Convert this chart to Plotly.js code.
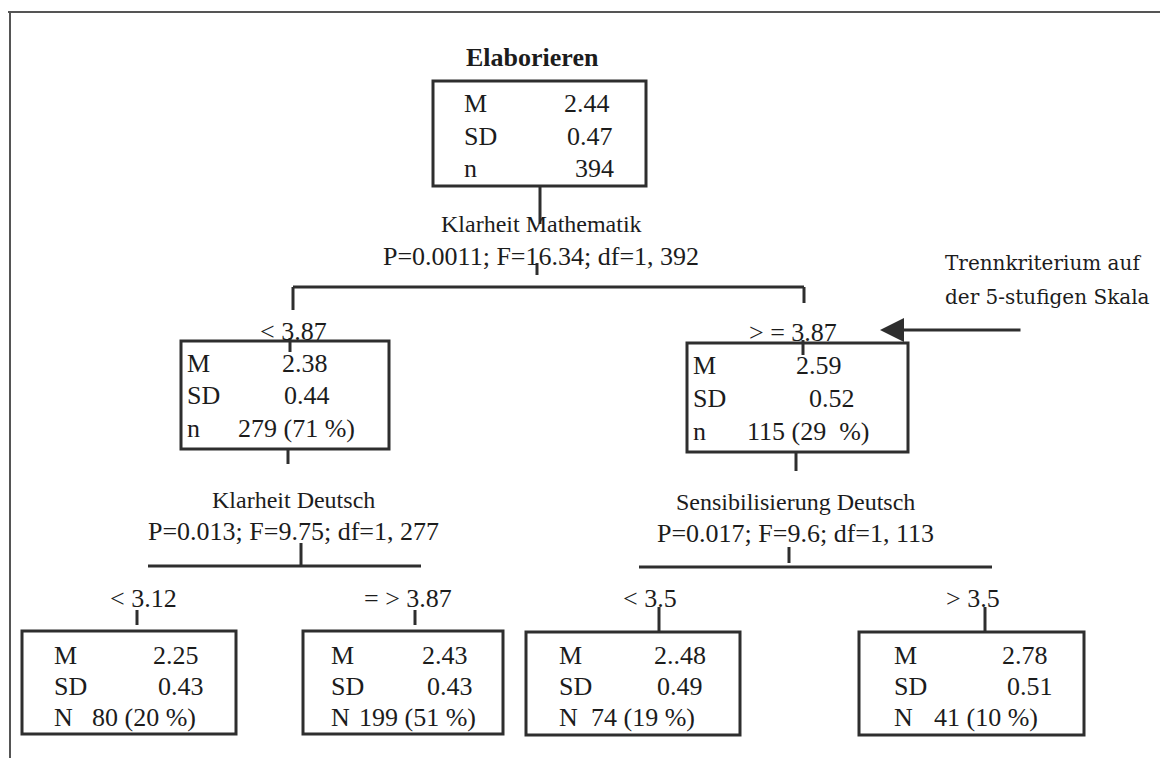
<!DOCTYPE html>
<html>
<head>
<meta charset="utf-8">
<script src="https://cdn.plot.ly/plotly-3.0.1.min.js"></script>
<style>html,body{margin:0;padding:0;background:#fff;}#chart{width:1160px;height:758px;}</style>
</head>
<body>
<div id="chart"></div>
<script>
// ---------- data ----------
const rootName = "Elaborieren";
const splitVariables = ["Klarheit Mathematik", "Klarheit Deutsch", "Sensibilisierung Deutsch"];
const splitStatistics = ["P=0.0011; F=16.34; df=1, 392", "P=0.013; F=9.75; df=1, 277", "P=0.017; F=9.6; df=1, 113"];
const branchLabels = ["< 3.87", "> = 3.87", "< 3.12", "= > 3.87", "< 3.5", "> 3.5"];
const rowLabels = ["M", "SD"];
const countLabels = ["n", "n", "n", "N", "N", "N", "N"];
const meanValues = ["2.44", "2.38", "2.59", "2.25", "2.43", "2..48", "2.78"];
const sdValues = ["0.47", "0.44", "0.52", "0.43", "0.43", "0.49", "0.51"];
const countValues = ["394", "279 (71 %)", "115 (29\u00A0 %)", "80 (20 %)", "199 (51 %)", "74 (19 %)", "41 (10 %)"];
const noteLines = ["Trennkriterium auf", "der 5-stufigen Skala"];

// ---------- layout geometry (pixel space of the page) ----------
const W = 1160, H = 758;
const boxGeo = [
  {x0: 433, x1: 646, y0: 81,  y1: 186, rows: [103, 136, 168], labX: 463, valX: [587, 590, 594]},
  {x0: 181, x1: 389, y0: 341, y1: 449, rows: [363, 395, 428], labX: 186, valX: [305, 307, 296]},
  {x0: 687, x1: 908, y0: 343, y1: 452, rows: [365, 398, 431], labX: 692, valX: [819, 832, 808]},
  {x0: 22,  x1: 236, y0: 631, y1: 734, rows: [655, 686, 717], labX: 53,  valX: [176, 181, 144]},
  {x0: 303, x1: 503, y0: 631, y1: 734, rows: [655, 686, 717], labX: 330, valX: [445, 450, 417]},
  {x0: 526, x1: 740, y0: 632, y1: 735, rows: [655, 686, 717], labX: 558, valX: [680, 680, 643]},
  {x0: 859, x1: 1084, y0: 632, y1: 735, rows: [655, 686, 717], labX: 893, valX: [1025, 1030, 986]}
];
const splitGeo = [{cx: 541, y1: 224, y2: 256}, {cx: 293, y1: 500, y2: 531}, {cx: 795, y1: 502, y2: 533}];
const branchGeo = [{x: 293, y: 331}, {x: 793, y: 332}, {x: 143, y: 598}, {x: 408, y: 598}, {x: 650, y: 598}, {x: 973, y: 598}];
const connectorGeo = [
  [540, 186, 540, 224], [537, 263, 537, 275],
  [293, 287, 804, 287], [293, 287, 293, 310], [804, 287, 804, 303],
  [290, 338, 290, 352], [803, 340, 803, 355],
  [288, 449, 288, 464], [796, 452, 796, 471],
  [301, 543, 301, 566], [148, 566, 421, 566],
  [789, 547, 789, 563], [639, 567, 992, 567],
  [137, 610, 137, 625], [415, 610, 415, 625], [659, 607, 659, 632], [985, 607, 985, 632]
];

const LINE = '#2e2e2e', INK = '#1c1c1c';
const SERIF = 'Liberation Serif, Times New Roman, serif';
const bodyFont = {family: SERIF, size: 26, color: INK};
const shapes = [], annotations = [];

// page frame
shapes.push({type: 'line', xref: 'x', yref: 'y', x0: 8, y0: 12, x1: W, y1: 12, line: {color: '#555', width: 2}});
shapes.push({type: 'line', xref: 'x', yref: 'y', x0: 10, y0: 12, x1: 10, y1: H, line: {color: '#555', width: 2}});

// boxes with their rows
boxGeo.forEach((b, i) => {
  shapes.push({type: 'rect', xref: 'x', yref: 'y', x0: b.x0, x1: b.x1, y0: b.y0, y1: b.y1,
               line: {color: LINE, width: 3}, fillcolor: 'rgba(0,0,0,0)'});
  const labs = [rowLabels[0], rowLabels[1], countLabels[i]];
  const vals = [meanValues[i], sdValues[i], countValues[i]];
  for (let r = 0; r < 3; r++) {
    annotations.push({x: b.labX, y: b.rows[r], xref: 'x', yref: 'y', text: labs[r], showarrow: false,
                      xanchor: 'left', yanchor: 'middle', font: bodyFont, borderpad: 0});
    annotations.push({x: b.valX[r], y: b.rows[r], xref: 'x', yref: 'y', text: vals[r], showarrow: false,
                      xanchor: 'center', yanchor: 'middle', font: bodyFont, borderpad: 0});
  }
});

// root title
annotations.push({x: 532, y: 57, xref: 'x', yref: 'y', text: '<b>' + rootName + '</b>', showarrow: false,
                  xanchor: 'center', yanchor: 'middle', borderpad: 0,
                  font: {family: SERIF, size: 26, color: INK}});

// split descriptions
splitGeo.forEach((s, i) => {
  annotations.push({x: s.cx, y: s.y1, xref: 'x', yref: 'y', text: splitVariables[i], showarrow: false,
                    xanchor: 'center', yanchor: 'middle', borderpad: 0,
                    font: {family: SERIF, size: 24, color: INK}});
  annotations.push({x: s.cx, y: s.y2, xref: 'x', yref: 'y', text: splitStatistics[i], showarrow: false,
                    xanchor: 'center', yanchor: 'middle', borderpad: 0, font: bodyFont});
});

// branch labels
branchGeo.forEach((g, i) => {
  annotations.push({x: g.x, y: g.y, xref: 'x', yref: 'y', text: branchLabels[i], showarrow: false,
                    xanchor: 'center', yanchor: 'middle', borderpad: 0, font: bodyFont});
});

// connectors
connectorGeo.forEach(c => {
  shapes.push({type: 'line', xref: 'x', yref: 'y', x0: c[0], y0: c[1], x1: c[2], y1: c[3],
               line: {color: LINE, width: 3}});
});

// arrow and note
annotations.push({x: 880, y: 330, ax: 1022, ay: 330, axref: 'x', ayref: 'y', xref: 'x', yref: 'y',
                  text: '', showarrow: true, arrowhead: 2, arrowsize: 1.6, arrowwidth: 3,
                  arrowcolor: LINE, standoff: 0, startstandoff: 0});
noteLines.forEach((t, i) => {
  annotations.push({x: 944, y: 263 + i * 34, xref: 'x', yref: 'y', text: t, showarrow: false,
                    xanchor: 'left', yanchor: 'middle', borderpad: 0,
                    font: {family: 'DejaVu Serif, serif', size: 20, color: INK}});
});

const layout = {
  width: W, height: H, margin: {l: 0, r: 0, t: 0, b: 0},
  paper_bgcolor: '#fff', plot_bgcolor: '#fff', showlegend: false,
  xaxis: {range: [0, W], visible: false, fixedrange: true},
  yaxis: {range: [H, 0], visible: false, fixedrange: true},
  shapes: shapes, annotations: annotations
};
Plotly.newPlot('chart', [{x: [], y: [], type: 'scatter', mode: 'markers', hoverinfo: 'skip'}], layout,
               {displayModeBar: false, staticPlot: true});
</script>
</body>
</html>
